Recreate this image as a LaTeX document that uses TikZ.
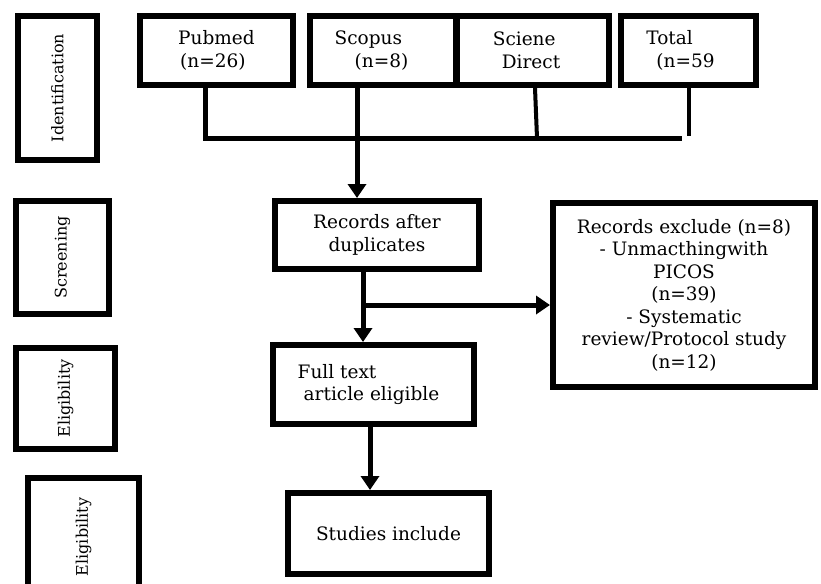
\documentclass[tikz,border=0pt]{standalone}
\usepackage{fontspec}
\setmainfont{DejaVu Serif}
\usetikzlibrary{arrows.meta}
\begin{document}
\begin{tikzpicture}[x=1pt,y=-1pt,
  box/.style={draw, line width=6pt, inner sep=0pt, outer sep=3pt, font=\fontsize{18.5}{22.5}\selectfont, align=center},
  side/.style={draw, line width=6pt, inner sep=0pt, outer sep=3pt, font=\fontsize{16}{18}\selectfont},
  conn/.style={line width=5pt},
  arr/.style={line width=5pt, -{Triangle[width=18pt,length=14pt]}}]
\useasboundingbox (0,0) rectangle (821,583);
% stage labels
\node[side, minimum width=79pt, minimum height=144pt] (id) at (57.5,88) {\rotatebox{90}{Identification}};
\node[side, minimum width=93pt, minimum height=113pt] (scr) at (62.5,257.5) {\rotatebox{90}{Screening}};
\node[side, minimum width=99pt, minimum height=101pt] (el1) at (65.5,398.5) {\rotatebox{90}{Eligibility}};
\node[side, minimum width=111pt, minimum height=118pt] (el2) at (83.5,537) {\rotatebox{90}{Eligibility}};
% sources
\node[box, minimum width=153pt, minimum height=69pt, align=left] (pub) at (216.5,50.5) {Pubmed\\\hspace{2pt}(n=26)};
\node[box, minimum width=147pt, minimum height=69pt, align=left] (sco) at (383.5,50.5) {Scopus\\\hspace{20pt}(n=8)\hspace*{24pt}};
\node[box, minimum width=153pt, minimum height=69pt, align=left] (sci) at (532.5,50.5) {Sciene\\\hspace{9pt}Direct\hspace*{12pt}};
\node[box, minimum width=135pt, minimum height=69pt, align=left] (tot) at (688.5,50.5) {Total\\\hspace{10pt}(n=59\hspace*{16pt}};
% main flow
\node[box, minimum width=204pt, minimum height=68pt] (rec) at (377,235) {Records after\\duplicates};
\node[box, minimum width=262pt, minimum height=184pt] (exc) at (684,295) {Records exclude (n=8)\\- Unmacthingwith\\PICOS\\(n=39)\\- Systematic\\review/Protocol study\\(n=12)};
\node[box, minimum width=201pt, minimum height=79pt, align=left] (full) at (373.5,384.5) {Full text\\\hspace{6pt}article eligible\hspace*{10pt}};
\node[box, minimum width=201pt, minimum height=81pt] (stu) at (388.5,533.5) {Studies include};
% connectors
\coordinate (hL) at (205,138);
\coordinate (hR) at (682,138);
\coordinate (a1) at (357,138);
\coordinate (s1) at (537,138);
\coordinate (t1) at (689,136);
\coordinate (a2) at (363,305);
\coordinate (a3) at (370,430);
\draw[conn] (hL |- pub.south) -- (hL) -- (hR);
\draw[conn, line width=4pt] (sci.south -| 535,0) -- (s1);
\draw[conn, line width=4pt] (tot.south -| t1) -- (t1);
\draw[arr] (sco.south -| a1) -- (rec.north -| a1);
\draw[arr] (rec.south -| a2) -- (full.north -| a2);
\draw[arr] (a2) -- (exc.west |- a2);
\draw[arr] (full.south -| a3) -- (stu.north -| a3);
\end{tikzpicture}
\end{document}
